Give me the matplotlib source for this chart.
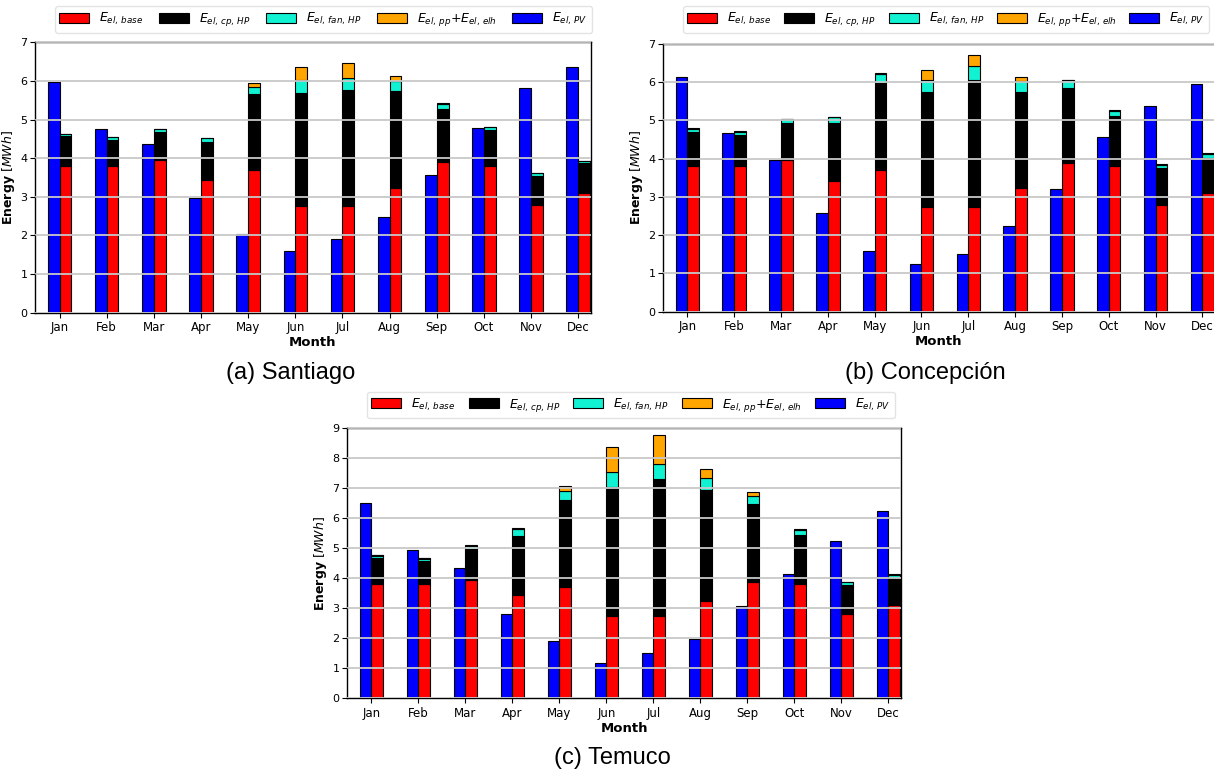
import matplotlib
matplotlib.use("Agg")
import matplotlib.pyplot as plt
import numpy as np

months = ["Jan", "Feb", "Mar", "Apr", "May", "Jun",
          "Jul", "Aug", "Sep", "Oct", "Nov", "Dec"]

# Baseline electricity demand (same profile in every city) [MWh]
e_base = [3.81, 3.81, 3.96, 3.43, 3.70, 2.75, 2.75, 3.23, 3.89, 3.81, 2.80, 3.11]

# Santiago [MWh]
stgo_cp = [0.76, 0.66, 0.72, 0.98, 1.95, 2.95, 3.01, 2.50, 1.38, 0.92, 0.75, 0.76]
stgo_fan = [0.06, 0.08, 0.07, 0.11, 0.20, 0.32, 0.32, 0.28, 0.13, 0.09, 0.07, 0.07]
stgo_pp = [0.00, 0.00, 0.00, 0.00, 0.09, 0.34, 0.39, 0.13, 0.02, 0.00, 0.00, 0.00]
stgo_pv = [5.98, 4.76, 4.37, 2.98, 2.04, 1.59, 1.92, 2.47, 3.56, 4.79, 5.81, 6.37]

# Concepción [MWh]
conc_cp = [0.90, 0.81, 0.97, 1.51, 2.27, 2.99, 3.31, 2.51, 1.95, 1.31, 0.97, 0.92]
conc_fan = [0.08, 0.09, 0.10, 0.14, 0.25, 0.32, 0.37, 0.30, 0.22, 0.14, 0.07, 0.10]
conc_pp = [0.01, 0.01, 0.02, 0.02, 0.03, 0.27, 0.29, 0.09, 0.01, 0.01, 0.01, 0.01]
conc_pv = [6.15, 4.66, 3.97, 2.57, 1.59, 1.24, 1.52, 2.23, 3.20, 4.56, 5.37, 5.95]

# Temuco [MWh]
tem_cp = [0.86, 0.77, 1.01, 1.98, 2.91, 4.31, 4.55, 3.71, 2.59, 1.63, 0.98, 0.89]
tem_fan = [0.09, 0.08, 0.11, 0.22, 0.30, 0.48, 0.50, 0.39, 0.26, 0.17, 0.10, 0.11]
tem_pp = [0.01, 0.01, 0.02, 0.04, 0.18, 0.84, 0.99, 0.31, 0.13, 0.02, 0.01, 0.02]
tem_pv = [6.50, 4.94, 4.33, 2.81, 1.90, 1.17, 1.50, 1.98, 3.09, 4.13, 5.26, 6.26]

labels = [r"$E_{el,\,base}$", r"$E_{el,\,cp,\,HP}$", r"$E_{el,\,fan,\,HP}$",
          r"$E_{el,\,pp}$+$E_{el,\,elh}$", r"$E_{el,\,PV}$"]
colors = ["#ff0000", "#000000", "#10f2d2", "#ffa500", "#0000ff"]

W, H = 1214, 771
fig = plt.figure(figsize=(W / 100, H / 100), dpi=100)
plt.rcParams["font.family"] = ["DejaVu Sans"]


def px_box(left, top, right, bottom):
    return [left / W, 1 - bottom / H, (right - left) / W, (bottom - top) / H]


def draw_panel(rect, legend_rect, cp, fan, pp, pv, ymax):
    ax = fig.add_axes(rect)
    x = np.arange(len(months))
    w = 0.25
    kw = dict(width=w, edgecolor="black", linewidth=0.8)
    base = np.array(e_base)
    cp = np.array(cp)
    fan = np.array(fan)
    pp = np.array(pp)
    h = []
    h.append(ax.bar(x + w / 2, base, color=colors[0], **kw))
    h.append(ax.bar(x + w / 2, cp, bottom=base, color=colors[1], **kw))
    h.append(ax.bar(x + w / 2, fan, bottom=base + cp, color=colors[2], **kw))
    h.append(ax.bar(x + w / 2, pp, bottom=base + cp + fan, color=colors[3], **kw))
    h.append(ax.bar(x - w / 2, pv, color=colors[4], **kw))
    ax.set_xlim(-0.52, 11.27)
    ax.set_ylim(0, ymax)
    ax.set_yticks(range(0, ymax + 1))
    ax.set_xticks(x)
    ax.set_xticklabels(months)
    ax.tick_params(axis="x", labelsize=8.5, length=3.5, pad=2.5)
    ax.tick_params(axis="y", labelsize=8, length=3.5, pad=2)
    ax.yaxis.grid(True, color="#c8c8c8", linewidth=1.3)
    ax.set_axisbelow(False)
    ax.set_xlabel("Month", fontsize=9.5, fontweight="bold", labelpad=1.5)
    ax.set_ylabel(r"$\mathbf{Energy}$ $[MWh]$", fontsize=9, labelpad=2)
    for s in ax.spines.values():
        s.set_linewidth(1.0)
    fig.legend(h, labels, loc="center", ncol=5, mode="expand",
               bbox_to_anchor=legend_rect, bbox_transform=fig.transFigure,
               fontsize=9, handlelength=2.4, handleheight=0.8,
               borderpad=0.35, borderaxespad=0.0, framealpha=0.8,
               edgecolor="#dddddd")
    return ax


draw_panel(px_box(35, 42.3, 591, 312.7), px_box(55, 7, 592, 32),
           stgo_cp, stgo_fan, stgo_pp, stgo_pv, 7)
draw_panel(px_box(663, 44, 1215, 311.7), px_box(683, 7, 1209, 32),
           conc_cp, conc_fan, conc_pp, conc_pv, 7)
draw_panel(px_box(347, 428.3, 901, 698.3), px_box(367, 393, 894.5, 417),
           tem_cp, tem_fan, tem_pp, tem_pv, 9)

cap = dict(fontsize=17, family="Liberation Sans", ha="center", va="baseline")
fig.text(291 / W, 1 - 379 / H, "(a) Santiago", **cap)
fig.text(925 / W, 1 - 379 / H, "(b) Concepción", **cap)
fig.text(612 / W, 1 - 764 / H, "(c) Temuco", **cap)

fig.savefig("out.png", dpi=100)
